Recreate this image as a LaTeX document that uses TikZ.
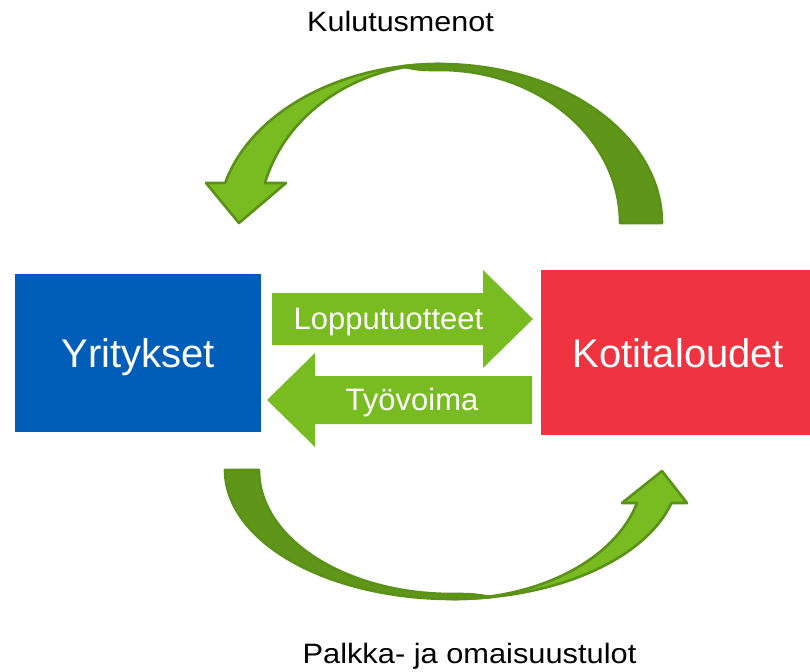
\documentclass[tikz,border=0pt]{standalone}
\usepackage{fontspec}
\setmainfont{Liberation Sans}
\usepackage{graphicx}
\usetikzlibrary{calc}
\definecolor{boxblue}{HTML}{005EB8}
\definecolor{boxred}{HTML}{EF3340}
\definecolor{lgreen}{HTML}{78BC21}
\definecolor{dgreen}{HTML}{5F961A}
\definecolor{ogreen}{HTML}{5A9117}
\tikzset{
  bigbox/.style={draw=none, inner sep=0pt, text=white, font=\fontsize{40}{48}\selectfont, text height=29pt, text depth=0pt},
  flowlabel/.style={inner sep=0pt, anchor=base, text=white, font=\fontsize{31}{36}\selectfont},
  sidelabel/.style={inner sep=0pt, anchor=base, text=black, font=\fontsize{28}{34}\selectfont},
  blockarrow/.style={fill=lgreen, draw=none},
  bandlight/.style={fill=lgreen, draw=ogreen, line width=2.6pt, line join=round},
  banddark/.style={fill=dgreen, draw=ogreen, line width=2.6pt, line join=round}
}
\begin{document}
\begin{tikzpicture}[x=1pt,y=-1pt]
\useasboundingbox (0,0) rectangle (810,671);
% boxes
\node[bigbox, fill=boxblue, minimum width=246pt, minimum height=158pt] (yr) at (138,353) {Yritykset};
\node[bigbox, fill=boxred, minimum width=269pt, minimum height=165pt] (ko) at (675.5,352.5) {\hspace*{6pt}Kotitaloudet};
% straight block arrows
\fill[blockarrow] (272,293) -- (483,293) -- (483,270) -- (533,319) -- (483,368) -- (483,345) -- (272,345) -- cycle;
\fill[blockarrow] (532,376) -- (315,376) -- (315,353) -- (267,400) -- (315,447) -- (315,424) -- (532,424) -- cycle;
\node[flowlabel] (lop) at (388.5,329) {Lopputuotteet};
\node[flowlabel] (tyo) at (412,410) {Työvoima};
% top curved arrow
\draw[banddark] (662,223) arc[start angle=0, end angle=-100, x radius=222, y radius=159]
   .. controls (420,70) .. (440,70)
   arc[start angle=-90, end angle=0, x radius=180, y radius=153] -- cycle;
\draw[bandlight] (440,64) arc[start angle=-90, end angle=-165.4, x radius=222, y radius=159]
   -- (206,183) -- (239,223) -- (286,183) -- (265,183)
   arc[start angle=-165.4, end angle=-90, x radius=181, y radius=159] -- cycle;
% bottom curved arrow
\draw[banddark] (225,470) arc[start angle=180, end angle=80, x radius=227, y radius=129]
   .. controls (472,594) .. (452,594)
   arc[start angle=90, end angle=180, x radius=193, y radius=124] -- cycle;
\draw[bandlight] (452,599) arc[start angle=90, end angle=14.8, x radius=227, y radius=129]
   -- (687,503) -- (662,471) -- (622,503) -- (637,503)
   arc[start angle=14.8, end angle=90, x radius=191.4, y radius=129] -- cycle;
% side labels
\node[sidelabel] (kul) at (400.5,32) {\scalebox{1.09}[1]{Kulutusmenot}};
\node[sidelabel] (pal) at (469.5,663) {\scalebox{1.1}[1]{Palkka- ja omaisuustulot}};
\end{tikzpicture}
\end{document}
